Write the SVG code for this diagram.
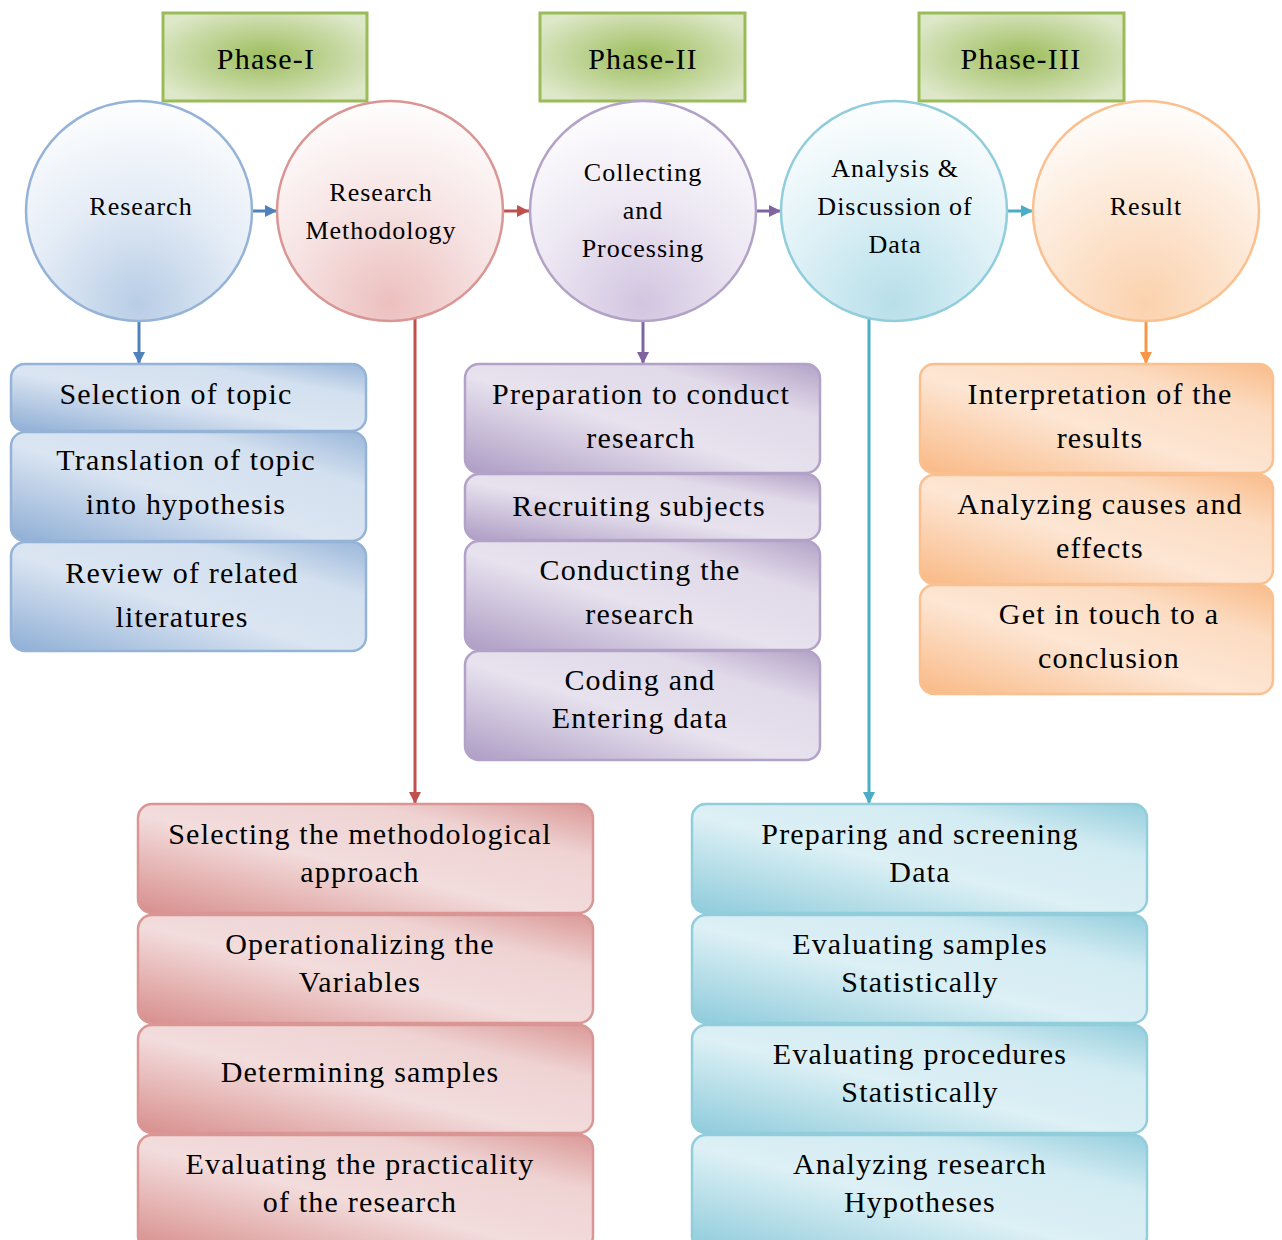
<svg xmlns="http://www.w3.org/2000/svg" width="1282" height="1240" viewBox="0 0 1282 1240">
  <defs>
    <style>
      text { font-family: "Liberation Serif", "Times New Roman", serif; fill: #000; text-anchor: middle; letter-spacing: 1.2px; }
      .phase text { font-size: 30px; }
      .circ text { font-size: 26px; letter-spacing: 1px; }
      .box text { font-size: 30px; }
      .phase rect { fill: url(#gPhase); stroke: #9bbb59; stroke-width: 3; }
      .circ ellipse { stroke-width: 2.5; }
      .box rect { stroke-width: 2.5; }
      .b ellipse { fill: url(#cB); stroke: #95b3d7; }
      .r ellipse { fill: url(#cR); stroke: #d99694; }
      .p ellipse { fill: url(#cP); stroke: #b3a2c7; }
      .t ellipse { fill: url(#cT); stroke: #92cddc; }
      .o ellipse { fill: url(#cO); stroke: #fac090; }
      .b rect { fill: url(#xB); stroke: #95b3d7; }
      .r rect { fill: url(#xR); stroke: #d99694; }
      .p rect { fill: url(#xP); stroke: #b3a2c7; }
      .t rect { fill: url(#xT); stroke: #92cddc; }
      .o rect { fill: url(#xO); stroke: #fac090; }
      .conn line { stroke-width: 3; fill: none; }
    </style>
    <radialGradient id="gPhase" cx="0.5" cy="0.5" r="0.6">
      <stop offset="0" stop-color="#9dbd5c"/>
      <stop offset="1" stop-color="#dde8c9"/>
    </radialGradient>
    <!-- circle fills: pale tint rising from the bottom -->
    <radialGradient id="cB" cx="0.5" cy="0.92" r="0.95">
      <stop offset="0" stop-color="#b8cde6"/><stop offset="0.5" stop-color="#e4ecf6"/><stop offset="1" stop-color="#ffffff"/>
    </radialGradient>
    <radialGradient id="cR" cx="0.5" cy="0.92" r="0.95">
      <stop offset="0" stop-color="#ecc0bf"/><stop offset="0.5" stop-color="#f7e4e4"/><stop offset="1" stop-color="#ffffff"/>
    </radialGradient>
    <radialGradient id="cP" cx="0.5" cy="0.92" r="0.95">
      <stop offset="0" stop-color="#d2c5e0"/><stop offset="0.5" stop-color="#ede8f3"/><stop offset="1" stop-color="#ffffff"/>
    </radialGradient>
    <radialGradient id="cT" cx="0.5" cy="0.92" r="0.95">
      <stop offset="0" stop-color="#b7dfea"/><stop offset="0.5" stop-color="#def1f6"/><stop offset="1" stop-color="#ffffff"/>
    </radialGradient>
    <radialGradient id="cO" cx="0.5" cy="0.92" r="0.95">
      <stop offset="0" stop-color="#fbd2ae"/><stop offset="0.5" stop-color="#fde8d6"/><stop offset="1" stop-color="#ffffff"/>
    </radialGradient>
    <!-- box fills: diagonal sheen -->
    <linearGradient id="xB" x1="0" y1="1" x2="1" y2="0">
      <stop offset="0" stop-color="#8eaed5"/><stop offset="0.45" stop-color="#dbe5f2"/><stop offset="0.75" stop-color="#d3e0ef"/><stop offset="1" stop-color="#9ab7da"/>
    </linearGradient>
    <linearGradient id="xR" x1="0" y1="1" x2="1" y2="0">
      <stop offset="0" stop-color="#d78e8c"/><stop offset="0.45" stop-color="#f3dcdc"/><stop offset="0.75" stop-color="#efd3d3"/><stop offset="1" stop-color="#da9997"/>
    </linearGradient>
    <linearGradient id="xP" x1="0" y1="1" x2="1" y2="0">
      <stop offset="0" stop-color="#ad9cc4"/><stop offset="0.45" stop-color="#e7e2ee"/><stop offset="0.75" stop-color="#e1dae9"/><stop offset="1" stop-color="#b3a2c7"/>
    </linearGradient>
    <linearGradient id="xT" x1="0" y1="1" x2="1" y2="0">
      <stop offset="0" stop-color="#8ecbdb"/><stop offset="0.45" stop-color="#dcf0f5"/><stop offset="0.75" stop-color="#d2ebf2"/><stop offset="1" stop-color="#94cedd"/>
    </linearGradient>
    <linearGradient id="xO" x1="0" y1="1" x2="1" y2="0">
      <stop offset="0" stop-color="#f9b985"/><stop offset="0.45" stop-color="#fde6d4"/><stop offset="0.75" stop-color="#fcdcc2"/><stop offset="1" stop-color="#f9bc8a"/>
    </linearGradient>
    <marker id="aB" viewBox="0 0 12 12" refX="12" refY="6" markerWidth="12" markerHeight="12" markerUnits="userSpaceOnUse" orient="auto"><path d="M0,0 L12,6 L0,12 z" fill="#4f81bd"/></marker>
    <marker id="aR" viewBox="0 0 12 12" refX="12" refY="6" markerWidth="12" markerHeight="12" markerUnits="userSpaceOnUse" orient="auto"><path d="M0,0 L12,6 L0,12 z" fill="#c0504d"/></marker>
    <marker id="aP" viewBox="0 0 12 12" refX="12" refY="6" markerWidth="12" markerHeight="12" markerUnits="userSpaceOnUse" orient="auto"><path d="M0,0 L12,6 L0,12 z" fill="#8064a2"/></marker>
    <marker id="aT" viewBox="0 0 12 12" refX="12" refY="6" markerWidth="12" markerHeight="12" markerUnits="userSpaceOnUse" orient="auto"><path d="M0,0 L12,6 L0,12 z" fill="#4bacc6"/></marker>
    <marker id="aO" viewBox="0 0 12 12" refX="12" refY="6" markerWidth="12" markerHeight="12" markerUnits="userSpaceOnUse" orient="auto"><path d="M0,0 L12,6 L0,12 z" fill="#f79646"/></marker>
  </defs>

  <rect width="1282" height="1240" fill="#ffffff"/>

  <!-- connectors -->
  <g id="connectors" class="conn">
    <line x1="252" y1="211" x2="277" y2="211" stroke="#4f81bd" marker-end="url(#aB)"/>
    <line x1="503" y1="211" x2="529" y2="211" stroke="#c0504d" marker-end="url(#aR)"/>
    <line x1="756" y1="211" x2="781" y2="211" stroke="#8064a2" marker-end="url(#aP)"/>
    <line x1="1007" y1="211" x2="1033" y2="211" stroke="#4bacc6" marker-end="url(#aT)"/>
    <line x1="139" y1="320" x2="139" y2="364" stroke="#4f81bd" marker-end="url(#aB)"/>
    <line x1="415" y1="317" x2="415" y2="804" stroke="#c0504d" marker-end="url(#aR)"/>
    <line x1="643" y1="320" x2="643" y2="364" stroke="#8064a2" marker-end="url(#aP)"/>
    <line x1="869" y1="318" x2="869" y2="804" stroke="#4bacc6" marker-end="url(#aT)"/>
    <line x1="1146" y1="320" x2="1146" y2="364" stroke="#f79646" marker-end="url(#aO)"/>
  </g>

  <!-- phase headers -->
  <g id="phase1" class="phase"><rect x="163" y="13" width="204" height="88"/><text x="266" y="69">Phase-I</text></g>
  <g id="phase2" class="phase"><rect x="540" y="13" width="205" height="88"/><text x="643" y="69">Phase-II</text></g>
  <g id="phase3" class="phase"><rect x="919" y="13" width="205" height="88"/><text x="1021" y="69">Phase-III</text></g>

  <!-- stage circles -->
  <g id="research" class="circ b"><ellipse cx="139" cy="211" rx="113" ry="110"/><text x="141" y="215">Research</text></g>
  <g id="methodology" class="circ r"><ellipse cx="390" cy="211" rx="113" ry="110"/><text x="381" y="201">Research</text><text x="381" y="239">Methodology</text></g>
  <g id="collecting" class="circ p"><ellipse cx="643" cy="211" rx="113" ry="110"/><text x="643" y="181">Collecting</text><text x="643" y="219">and</text><text x="643" y="257">Processing</text></g>
  <g id="analysis" class="circ t"><ellipse cx="894" cy="211" rx="113" ry="110"/><text x="895" y="177">Analysis &amp;</text><text x="895" y="215">Discussion of</text><text x="895" y="253">Data</text></g>
  <g id="result" class="circ o"><ellipse cx="1146" cy="211" rx="113" ry="110"/><text x="1146" y="215">Result</text></g>

  <!-- Research steps -->
  <g id="b1" class="box b"><rect x="11" y="364" width="355" height="67" rx="14"/><text x="176" y="404">Selection of topic</text></g>
  <g id="b2" class="box b"><rect x="11" y="432" width="355" height="109" rx="14"/><text x="186" y="470">Translation of topic</text><text x="186" y="514">into hypothesis</text></g>
  <g id="b3" class="box b"><rect x="11" y="542" width="355" height="109" rx="14"/><text x="182" y="583">Review of related</text><text x="182" y="627">literatures</text></g>

  <!-- Collecting steps -->
  <g id="p1" class="box p"><rect x="465" y="364" width="355" height="109" rx="14"/><text x="641" y="404">Preparation to conduct</text><text x="641" y="448">research</text></g>
  <g id="p2" class="box p"><rect x="465" y="474" width="355" height="66" rx="14"/><text x="639" y="516">Recruiting subjects</text></g>
  <g id="p3" class="box p"><rect x="465" y="541" width="355" height="109" rx="14"/><text x="640" y="580">Conducting the</text><text x="640" y="624">research</text></g>
  <g id="p4" class="box p"><rect x="465" y="651" width="355" height="109" rx="14"/><text x="640" y="690">Coding and</text><text x="640" y="728">Entering data</text></g>

  <!-- Result steps -->
  <g id="o1" class="box o"><rect x="920" y="364" width="353" height="109" rx="14"/><text x="1100" y="404">Interpretation of the</text><text x="1100" y="448">results</text></g>
  <g id="o2" class="box o"><rect x="920" y="475" width="353" height="109" rx="14"/><text x="1100" y="514">Analyzing causes and</text><text x="1100" y="558">effects</text></g>
  <g id="o3" class="box o"><rect x="920" y="585" width="353" height="109" rx="14"/><text x="1109" y="624">Get in touch to a</text><text x="1109" y="668">conclusion</text></g>

  <!-- Methodology steps -->
  <g id="r1" class="box r"><rect x="138" y="804" width="455" height="109" rx="14"/><text x="360" y="844">Selecting the methodological</text><text x="360" y="882">approach</text></g>
  <g id="r2" class="box r"><rect x="138" y="915" width="455" height="108" rx="14"/><text x="360" y="954">Operationalizing the</text><text x="360" y="992">Variables</text></g>
  <g id="r3" class="box r"><rect x="138" y="1025" width="455" height="108" rx="14"/><text x="360" y="1082">Determining samples</text></g>
  <g id="r4" class="box r"><rect x="138" y="1135" width="455" height="115" rx="14"/><text x="360" y="1174">Evaluating the practicality</text><text x="360" y="1212">of the research</text></g>

  <!-- Analysis steps -->
  <g id="t1" class="box t"><rect x="692" y="804" width="455" height="109" rx="14"/><text x="920" y="844">Preparing and screening</text><text x="920" y="882">Data</text></g>
  <g id="t2" class="box t"><rect x="692" y="915" width="455" height="108" rx="14"/><text x="920" y="954">Evaluating samples</text><text x="920" y="992">Statistically</text></g>
  <g id="t3" class="box t"><rect x="692" y="1025" width="455" height="108" rx="14"/><text x="920" y="1064">Evaluating procedures</text><text x="920" y="1102">Statistically</text></g>
  <g id="t4" class="box t"><rect x="692" y="1135" width="455" height="115" rx="14"/><text x="920" y="1174">Analyzing research</text><text x="920" y="1212">Hypotheses</text></g>
</svg>
